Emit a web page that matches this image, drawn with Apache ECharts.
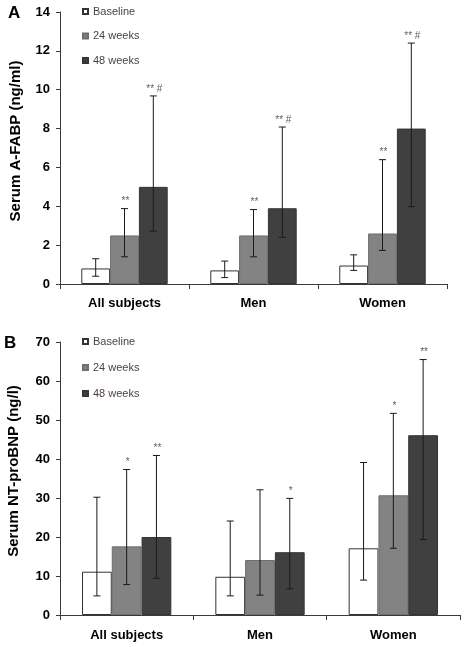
<!DOCTYPE html>
<html>
<head>
<meta charset="utf-8">
<script src="https://cdn.jsdelivr.net/npm/echarts@6/dist/echarts.min.js"></script>
<style>html,body{margin:0;padding:0;background:#fff;}#c{width:465px;height:647px;}</style>
</head>
<body>
<div id="c"></div>
<script>
const categories = ['All subjects', 'Men', 'Women'];
const seriesNames = ['Baseline', '24 weeks', '48 weeks'];

// Panel A: Serum A-FABP (ng/ml)
const aMean = [[0.8, 0.7, 0.95], [2.5, 2.5, 2.6], [5.0, 3.9, 8.0]];
const aLow  = [[0.4, 0.33, 0.7], [1.4, 1.4, 1.73], [2.72, 2.4, 3.98]];
const aHigh = [[1.3, 1.18, 1.5], [3.88, 3.83, 6.4], [9.68, 8.08, 12.4]];
const aMarks = [['', '', ''], ['**', '**', '**'], ['** #', '** #', '** #']];
const aTicks = [0, 2, 4, 6, 8, 10, 12, 14];

// Panel B: Serum NT-proBNP (ng/l)
const bMean = [[11.1, 9.8, 17.1], [17.6, 14.1, 30.7], [20.0, 16.1, 46.1]];
const bLow  = [[4.9, 4.9, 8.95], [7.8, 5.1, 17.1], [9.4, 6.7, 19.35]];
const bHigh = [[30.2, 24.1, 39.1], [37.3, 32.1, 51.7], [40.9, 29.9, 65.5]];
const bMarks = [['', '', ''], ['*', '', '*'], ['**', '*', '**']];
const bTicks = [0, 10, 20, 30, 40, 50, 60, 70];

const fills = ['#ffffff', '#838383', '#404040'];
const borders = ['#333333', '#6e6e6e', '#353535'];
const CAT_GAP = 0.33;

function barSeries(gi, means) {
  return means.map((vals, si) => ({
    type: 'bar', name: seriesNames[si], xAxisIndex: gi, yAxisIndex: gi,
    data: vals, barGap: '0%', barCategoryGap: '33%',
    itemStyle: { color: fills[si], borderColor: borders[si], borderWidth: 1 },
    silent: true, z: 2
  }));
}

function errSeries(gi, lows, highs, marks) {
  return lows.map((lv, si) => ({
    type: 'custom', xAxisIndex: gi, yAxisIndex: gi, silent: true, z: 5,
    data: lv.map((l, ci) => [ci, l, highs[si][ci], marks[si][ci]]),
    renderItem: function (params, api) {
      const ci = api.value(0);
      const band = api.size([1, 0])[0];
      const bw = band * (1 - CAT_GAP) / 3;
      const c0 = api.coord([ci, api.value(1)]);
      const c1 = api.coord([ci, api.value(2)]);
      const x = c0[0] + (si - 1) * bw;
      const y0 = c0[1], y1 = c1[1];
      const cap = 3.5;
      const ls = { stroke: '#1a1a1a', lineWidth: 1 };
      const children = [
        { type: 'line', shape: { x1: x, y1: y0, x2: x, y2: y1 }, style: ls },
        { type: 'line', shape: { x1: x - cap, y1: y0, x2: x + cap, y2: y0 }, style: ls },
        { type: 'line', shape: { x1: x - cap, y1: y1, x2: x + cap, y2: y1 }, style: ls }
      ];
      const m = marks[si][ci];
      if (m) {
        children.push({ type: 'text', x: x + 1, y: y1 - 2,
          style: { text: m, align: 'center', verticalAlign: 'bottom',
            font: '10px "Liberation Sans", Arial, sans-serif', fill: '#5a6262' } });
      }
      return { type: 'group', children: children };
    }
  }));
}

const axisLineStyle = { color: '#3a3a3a', width: 1 };
const tickFont = { fontFamily: '"Liberation Sans", Arial, sans-serif', fontWeight: 'bold', fontSize: 13, color: '#000' };

function xAxisDef(gi, margin) {
  return { type: 'category', gridIndex: gi, data: categories,
    axisLine: { lineStyle: axisLineStyle },
    axisTick: { show: true, length: 5, lineStyle: axisLineStyle },
    axisLabel: Object.assign({ margin: margin }, tickFont) };
}
function yAxisDef(gi, ticks) {
  return { type: 'value', gridIndex: gi, min: ticks[0], max: ticks[ticks.length - 1],
    interval: ticks[1] - ticks[0],
    axisLine: { show: true, lineStyle: axisLineStyle },
    axisTick: { show: true, length: 4, lineStyle: axisLineStyle },
    splitLine: { show: false },
    axisLabel: Object.assign({ margin: 10 }, tickFont) };
}

const chart = echarts.init(document.getElementById('c'), null, { renderer: 'canvas' });
const legendText = { fontFamily: '"Liberation Sans", Arial, sans-serif', fontSize: 11, color: '#4d404d' };
chart.setOption({
  animation: false,
  backgroundColor: '#ffffff',
  grid: [
    { left: 60, top: 12, width: 387, height: 272 },
    { left: 60, top: 342, width: 400, height: 273 }
  ],
  xAxis: [xAxisDef(0, 13), xAxisDef(1, 14)],
  yAxis: [yAxisDef(0, aTicks), yAxisDef(1, bTicks)],
  legend: [
    { orient: 'vertical', left: 82, top: 6, itemWidth: 5, itemHeight: 5, itemGap: 13.5, icon: 'rect',
      data: seriesNames, textStyle: legendText, padding: 0, selectedMode: false },
    { orient: 'vertical', left: 82, top: 336, itemWidth: 5, itemHeight: 5, itemGap: 15, icon: 'rect',
      data: seriesNames, textStyle: legendText, padding: 0, selectedMode: false }
  ],
  graphic: [
    { type: 'text', left: 8, top: 5, style: { text: 'A', font: 'bold 17px "Liberation Sans", Arial, sans-serif', fill: '#000' } },
    { type: 'text', left: 4, top: 335, style: { text: 'B', font: 'bold 17px "Liberation Sans", Arial, sans-serif', fill: '#000' } },
    { type: 'text', x: 16, y: 141, rotation: Math.PI / 2,
      style: { text: 'Serum A-FABP (ng/ml)', align: 'center', verticalAlign: 'middle',
        font: 'bold 15px "Liberation Sans", Arial, sans-serif', fill: '#000' } },
    { type: 'text', x: 14, y: 471, rotation: Math.PI / 2,
      style: { text: 'Serum NT-proBNP (ng/l)', align: 'center', verticalAlign: 'middle',
        font: 'bold 15px "Liberation Sans", Arial, sans-serif', fill: '#000' } }
  ],
  series: [].concat(
    barSeries(0, aMean), barSeries(1, bMean),
    errSeries(0, aLow, aHigh, aMarks), errSeries(1, bLow, bHigh, bMarks)
  )
});
</script>
</body>
</html>
